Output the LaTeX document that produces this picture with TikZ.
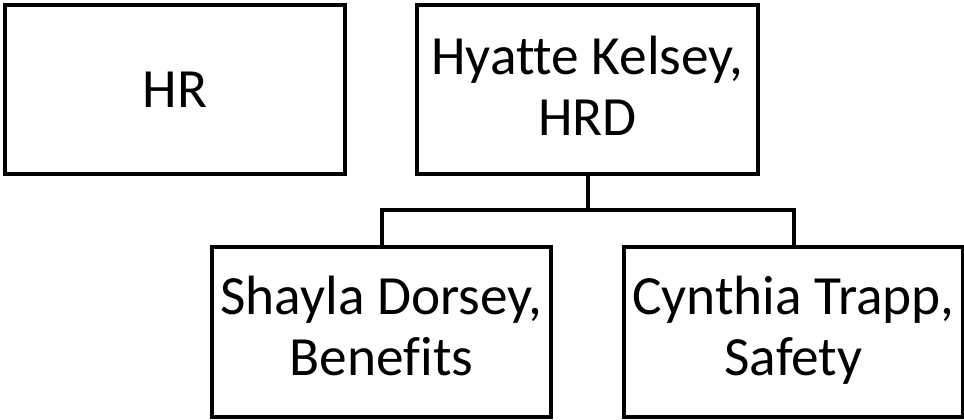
\documentclass[tikz,border=0pt]{standalone}
\usepackage{fontspec}
\setmainfont{Carlito}[Ligatures=NoCommon]
\begin{document}
\begin{tikzpicture}[x=0.75pt,y=-0.75pt,
  orgbox/.style={draw=black, line width=3pt, fill=white, rectangle, align=center,
    inner sep=0pt, outer sep=0pt, font=\fontsize{41.5}{45.75}\selectfont},
  link/.style={draw=black, line width=3pt, line join=miter}]
\useasboundingbox (0,0) rectangle (964,420);
\node[orgbox, minimum width=255pt, minimum height=126.75pt] (hr) at (175,89.5) {HR};
\node[orgbox, minimum width=255.75pt, minimum height=126.75pt, text depth=5pt] (hy) at (587.5,89.5) {Hyatte Kelsey,\\HRD};
\node[orgbox, minimum width=254.25pt, minimum height=127.5pt, text depth=9pt] (sh) at (381.5,332) {Shayla Dorsey,\\Benefits};
\node[orgbox, minimum width=254.25pt, minimum height=127.5pt, text depth=9pt] (cy) at (793.5,332) {Cynthia Trapp,\\Safety};
\coordinate (bus) at (587.5,210);
\draw[link] (hy.south) -- (bus);
\draw[link] (sh.north) |- (bus) -| (cy.north);
\end{tikzpicture}
\end{document}
